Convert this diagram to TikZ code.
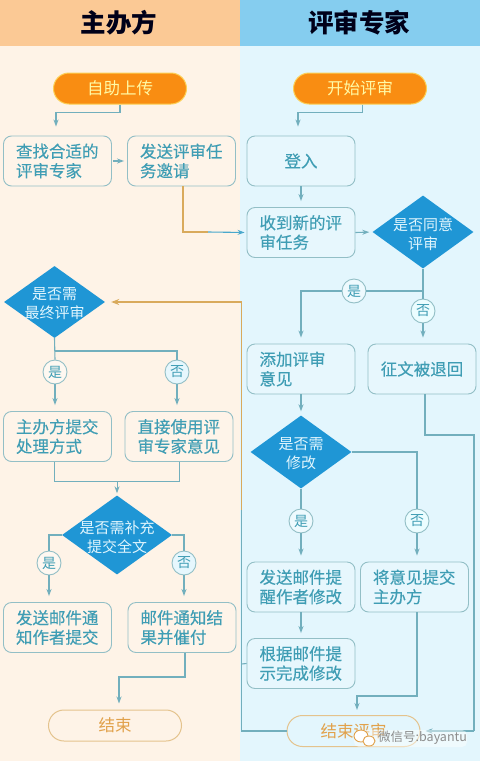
\documentclass[tikz,border=0pt]{standalone}
\usepackage{fontspec}
\setmainfont{Noto Sans CJK SC}
\usetikzlibrary{shapes.geometric,arrows.meta,calc}
\definecolor{bgL}{HTML}{FEF3E7}
\definecolor{bgR}{HTML}{E3F6FD}
\definecolor{hdL}{HTML}{FBC995}
\definecolor{hdR}{HTML}{85CDEF}
\definecolor{teal1}{HTML}{72AFBD}
\definecolor{bord}{HTML}{93BFC6}
\definecolor{txt}{HTML}{3F9DB4}
\definecolor{org}{HTML}{F98D12}
\definecolor{orgl}{HTML}{D9AA5C}
\definecolor{dia}{HTML}{1F96D5}
\definecolor{blue1}{HTML}{4AA8CC}
\tikzset{
  x=1pt,y=-1pt,
  box/.style={draw=bord,line width=0.9pt,rounded corners=8pt,minimum width=108pt,minimum height=50pt,inner sep=0pt,text=txt,font=\fontsize{16.5}{19.5}\selectfont\addfontfeature{FakeBold=0.25}},
  boxL/.style={box,fill=bgL!90!white},
  boxR/.style={box,fill=bgR!85!white},
  para/.style={text width=83pt,align=left},
  pill/.style={draw=#1,line width=1pt,rounded corners=15.5pt,minimum width=133pt,minimum height=31pt,inner sep=0pt,font=\fontsize{16.5}{19.5}\selectfont},
  startpill/.style={pill=org!60!yellow!70!white,fill=org,text=yellow!35!white},
  endpill/.style={pill=orgl!70!white,fill=#1,text=orgl!80!orange},
  decide/.style={diamond,fill=dia,inner sep=0pt,minimum width=101pt,minimum height=72pt},
  dlabel/.style={text=cyan!12!white,align=center,inner sep=0pt,yshift=-2pt,font=\fontsize{15}{19}\selectfont},
  yn/.style={circle,draw=bord,line width=0.9pt,minimum size=24pt,inner sep=0pt,text=txt,font=\fontsize{14}{16}\selectfont,fill=#1},
  link/.style={draw=teal1,line width=1.1pt},
  arr/.style={link,-{Stealth[length=7pt,width=5pt]}},
  head/.style={font=\fontsize{25.5}{30}\selectfont\bfseries,text=black!90!blue},
  wmark/.style={text=black!45,font=\fontsize{12.5}{15}\selectfont,inner sep=0pt}
}
\begin{document}
\begin{tikzpicture}
\useasboundingbox (0,0) rectangle (480,761);
\fill[bgL] (0,0) rectangle (240,761);
\fill[bgR] (240,0) rectangle (480,761);
\fill[hdL] (0,0) rectangle (240,46);
\fill[hdR] (240,0) rectangle (480,46);
\node[head] (hL) at (119,23) {主办方};
\node[head] (hR) at (359,23) {评审专家};
% left column
\node[startpill] (s1) at (120,88.5) {自助上传};
\node[boxL,para] (a1) at (57.5,161) {查找合适的\\评审专家};
\node[boxL,para] (a2) at (181.5,161) {发送评审任\\务邀请};
\node[decide,label={[dlabel]center:是否需\\最终评审}] (d0) at (54.5,302) {};
\node[boxL,para] (e1) at (57.5,436.5) {主办方提交\\处理方式};
\node[boxL,para] (e2) at (179,436.5) {直接使用评\\审专家意见};
\node[decide,minimum width=110pt,minimum height=79pt,label={[dlabel]center:是否需补充\\提交全文}] (d2) at (117,535) {};
\node[boxL,para] (f1) at (57.5,627.5) {发送邮件通\\知作者提交};
\node[boxL,para] (f2) at (182,627.5) {邮件通知结\\果并催付};
\node[endpill=bgL] (p1) at (115,725.5) {结束};
\node[yn=bgL!60!white] (y0) at (55,372) {是};
\node[yn=cyan!10!white] (n0) at (177,372) {否};
\node[yn=bgL!60!white] (y2) at (49,563) {是};
\node[yn=cyan!10!white] (n2) at (184,563) {否};
% right column
\node[startpill] (s2) at (360,88.5) {开始评审};
\node[boxR,align=center] (b1) at (301,161) {登入};
\node[boxR,para] (b2) at (301,232.5) {收到新的评\\审任务};
\node[decide,minimum height=73pt,label={[dlabel]center:是否同意\\评审}] (d1) at (423,232) {};
\node[boxR,para] (c1) at (301,369) {添加评审\\意见};
\node[boxR,align=center] (c2) at (422,369) {征文被退回};
\node[decide,minimum height=73pt,label={[dlabel]center:是否需\\修改}] (d3) at (301,452) {};
\node[boxR,para] (g1) at (301,587) {发送邮件提\\醒作者修改};
\node[boxR,para] (g2) at (414.5,587) {将意见提交\\主办方};
\node[boxR,para] (g3) at (301,663.5) {根据邮件提\\示完成修改};
\node[endpill=bgR] (p2) at (353.5,731) {结束评审};
\node[yn=bgR!60!white] (y1) at (354,291) {是};
\node[yn=blue!8!cyan!8!white] (n1) at (423,311) {否};
\node[yn=bgR!60!white] (y3) at (301,521) {是};
\node[yn=blue!8!cyan!8!white] (n3) at (417,521) {否};
% free ends and bends
\coordinate (m1) at (208,232);
\coordinate (o1) at (241.5,510);
\coordinate (o2) at (241.5,664);
\coordinate (j0) at (55,351);
\coordinate (j1) at (423,291);
\coordinate (j2) at (117,481.5);
\coordinate (j3) at (425,435);
\coordinate (r1) at (474,435);
\coordinate (t1) at (185,677);
\coordinate (t2) at (417,696);
% connectors
\draw[arr,shorten >=9pt] (s1.south) -- ++(0,8) -| ([xshift=-1.5pt]a1.north);
\draw[arr,shorten <=1pt,shorten >=3pt] (a1.east) -- (a2.west);
\draw[draw=orgl,line width=1.2pt] (a2.south) ++(1.5,0) |- (m1);
\draw[arr,draw=blue1,-{Stealth[length=7pt,width=5pt,fill=blue1]},shorten >=2pt] (m1) -- (b2.west);
\draw[arr,shorten >=9pt] (s2.south) ++(2.5,0) -- ++(0,8) -| ([xshift=-3pt]b1.north);
\draw[arr,shorten >=6pt] (b1.south) -- (b2.north);
\draw[arr,shorten >=3pt] (b2.east) -- (d1.west);
\draw[link] (d1.south) -- (n1.north);
\draw[link] (j1) -- (y1.east);
\draw[arr,shorten >=6pt] (y1.west) -| (c1.north);
\draw[arr,shorten >=6pt] (n1.south) -- (n1 |- c2.north);
\draw[arr,shorten >=4pt] (c1.south) -- (d3.north);
\draw[link] (d3.south) -- (y3.north);
\draw[arr,shorten >=6pt] (y3.south) -- (g1.north);
\draw[link] (d3.east) -| (n3.north);
\draw[arr,shorten >=6pt] (n3.south) -- (n3 |- g2.north);
\draw[arr,shorten >=5pt] (g1.south) -- (g3.north);
\draw[arr,shorten >=5pt] (n3 |- g2.south) -- (t2) -| ([xshift=3.5pt]p2.north);
\draw[link] (j3 |- c2.south) -- (j3) -- (r1) -- (r1 |- p2.east);
\draw[arr,shorten >=5pt] (r1 |- p2.east) -- (p2.east);
\draw[link] (g3.west) -- (o2);
\draw[link] (o1) |- (p2.west);
\draw[draw=orgl,line width=1.2pt,-{Stealth[length=8pt,width=6pt]},shorten >=6pt] (o1) |- (d0.east);
\draw[link] (d0.south) -- (y0.north);
\draw[link] (j0) -| (n0.north);
\draw[arr,shorten >=6pt] (y0.south) -- (y0 |- e1.north);
\draw[arr,shorten >=6pt] (n0.south) -- (n0 |- e2.north);
\draw[link,line width=0.9pt] (e1.south) ++(-3.5,0) |- (j2);
\draw[link,line width=0.9pt] (e2.south) |- (j2);
\draw[arr,line width=0.9pt,shorten >=2pt] (j2) -- (d2.north);
\draw[link] (d2.west) -| (y2.north);
\draw[link] (d2.east) -| (n2.north);
\draw[arr,shorten >=6pt] (y2.south) -- (y2 |- f1.north);
\draw[arr,shorten >=6pt] (n2.south) -- (n2 |- f2.north);
\draw[arr,shorten >=6pt] (t1 |- f2.south) -- (t1) -- (119,677) -- ([xshift=4pt]p1.north);
% watermark
\fill[white,opacity=.45,rounded corners=5pt] (354,730) rectangle (467,747);
\draw[orgl!80!orange,line width=.9pt,fill=white] (361,736) ellipse (7pt and 6pt);
\draw[orgl!80!orange,line width=.9pt,fill=white] (369,741) ellipse (6pt and 5pt);
\node[wmark,anchor=west] (wm) at (378,738) {微信号:bayantu};
\end{tikzpicture}
\end{document}
